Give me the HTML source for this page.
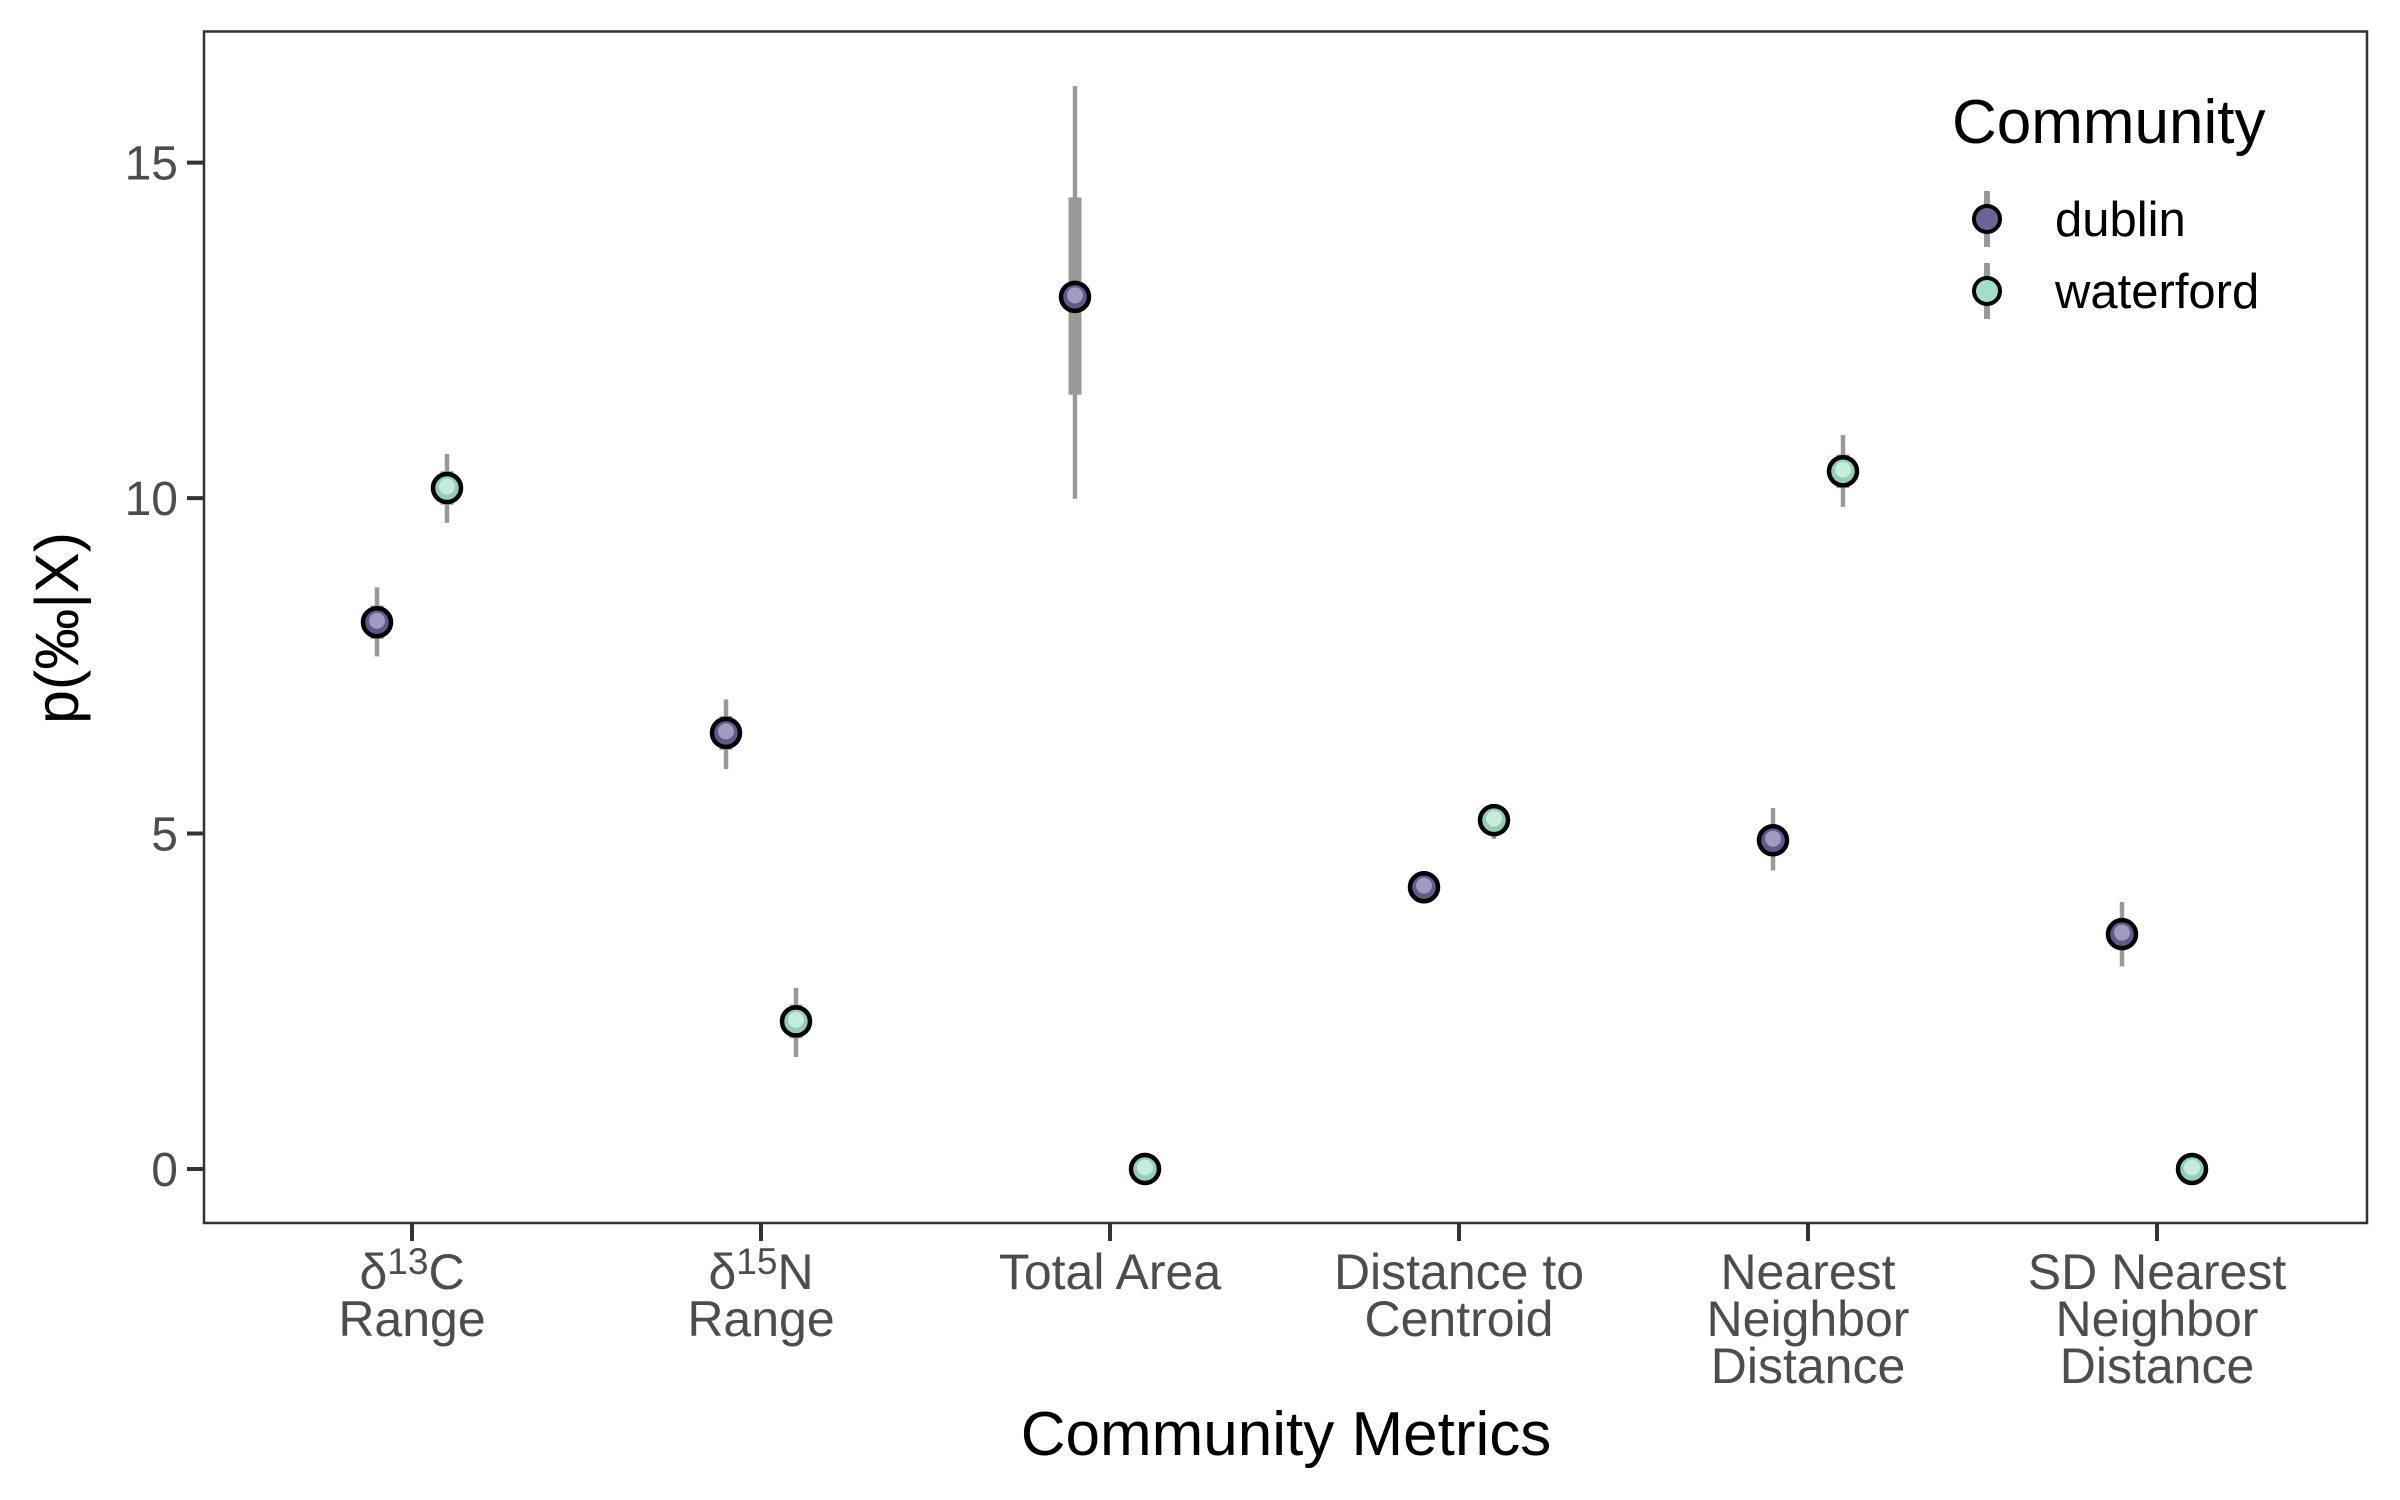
<!DOCTYPE html>
<html><head><meta charset="utf-8"><style>
html,body{margin:0;padding:0;background:#fff;}
svg{display:block;font-family:"Liberation Sans",Arial,sans-serif;}
</style></head><body>
<svg id="chart" width="2400" height="1500" viewBox="0 0 2400 1500" xmlns="http://www.w3.org/2000/svg">
<rect x="0" y="0" width="2400" height="1500" fill="#fff"/>
<g id="intervals"></g>
<g id="points"></g>
<rect x="204" y="31.5" width="2163" height="1191.5" fill="none" stroke="#333" stroke-width="2.5"/>
<g id="yaxis"></g>
<g id="xaxis"></g>
<text x="1286" y="1455" font-size="62" text-anchor="middle" fill="#000">Community Metrics</text>
<text transform="translate(78,628) rotate(-90)" font-size="61" text-anchor="middle" fill="#000">p(‰|X)</text>
<g>
<text x="1952" y="143" font-size="62" fill="#000">Community</text>
<g>
<line x1="1987" y1="191" x2="1987" y2="247" stroke="#999" stroke-width="6"/>
<circle cx="1987" cy="219" r="13" fill="#6a6497" stroke="#000" stroke-width="4"/>
<text x="2055" y="236" font-size="49" fill="#000">dublin</text>
</g>
<g>
<line x1="1987" y1="263" x2="1987" y2="319" stroke="#999" stroke-width="6"/>
<circle cx="1987" cy="291" r="13" fill="#a3dfc6" stroke="#000" stroke-width="4"/>
<text x="2055" y="308" font-size="49" fill="#000">waterford</text>
</g>
</g>
</svg>
<script>
const categories = ["d13C","d15N","Total Area","Distance to Centroid","Nearest Neighbor Distance","SD Nearest Neighbor Distance"];
const dublinValues = [8.15, 6.5, 13.0, 4.2, 4.9, 3.5];
const dublinLow = [7.64, 5.96, 9.99, 4.05, 4.45, 3.02];
const dublinHigh = [8.67, 7.0, 16.14, 4.35, 5.38, 3.98];
const dublinInnerLow = [7.9, 6.25, 11.54, 4.1, 4.7, 3.3];
const dublinInnerHigh = [8.4, 6.75, 14.48, 4.3, 5.1, 3.7];
const waterfordValues = [10.15, 2.2, 0.0, 5.2, 10.4, 0.0];
const waterfordLow = [9.63, 1.67, 0.0, 4.92, 9.87, 0.0];
const waterfordHigh = [10.66, 2.7, 0.0, 5.44, 10.94, 0.0];
const waterfordInnerLow = [9.9, 1.95, 0.0, 5.05, 10.15, 0.0];
const waterfordInnerHigh = [10.4, 2.45, 0.0, 5.35, 10.65, 0.0];
const yTicks = [0, 5, 10, 15];

const NS = "http://www.w3.org/2000/svg";
function yScale(v){ return 1169 - v * 67.09; }
function xScale(i){ return 412 + i * 349; }
function mk(tag, attrs, parent){ const e=document.createElementNS(NS,tag); for(const k in attrs) e.setAttribute(k,attrs[k]); parent.appendChild(e); return e; }

const gI=document.getElementById('intervals'), gP=document.getElementById('points');
const series=[
 {name:'dublin', vals:dublinValues, lo:dublinLow, hi:dublinHigh, ilo:dublinInnerLow, ihi:dublinInnerHigh, off:-35, fill:'#5e5a8c', inner:'#a09cbf'},
 {name:'waterford', vals:waterfordValues, lo:waterfordLow, hi:waterfordHigh, ilo:waterfordInnerLow, ihi:waterfordInnerHigh, off:35, fill:'#8fd0b4', inner:'#c6ecdb'}
];
series.forEach(s=>{
  s.vals.forEach((v,i)=>{
    const x=xScale(i)+s.off;
    const l=mk('line',{x1:x,x2:x,y1:yScale(s.lo[i]),y2:yScale(s.hi[i]),stroke:'#999','stroke-width':4.5},gI);
    
    
    const t=mk('line',{x1:x,x2:x,y1:yScale(s.ilo[i]),y2:yScale(s.ihi[i]),stroke:'#999','stroke-width':13},gI);
    
    
    const g=mk('g',{},gP);
    
    
    mk('circle',{cx:x,cy:yScale(v),r:14,fill:s.fill,stroke:'#000','stroke-width':4.5},g);
    mk('circle',{cx:x,cy:yScale(v)-1.5,r:8,fill:s.inner},g);
  });
});

const gy=document.getElementById('yaxis');
yTicks.forEach(t=>{
  const y=yScale(t);
  const l=mk('line',{x1:187,x2:204,y1:y,y2:y,stroke:'#333','stroke-width':4},gy);
  
  
  const tx=mk('text',{x:178,y:y+17,'font-size':48,'text-anchor':'end',fill:'#4d4d4d'},gy);
  
  
  tx.textContent=String(t);
});

const gx=document.getElementById('xaxis');
const labelLines=[
 [["δ",{sup:"13"},"C"],["Range"]],
 [["δ",{sup:"15"},"N"],["Range"]],
 [["Total Area"]],
 [["Distance to"],["Centroid"]],
 [["Nearest"],["Neighbor"],["Distance"]],
 [["SD Nearest"],["Neighbor"],["Distance"]]
];
categories.forEach((c,i)=>{
  const x=xScale(i);
  const l=mk('line',{x1:x,x2:x,y1:1223,y2:1241,stroke:'#333','stroke-width':4},gx);
  
  
  labelLines[i].forEach((parts,li)=>{
    const y=1289+li*47;
    const tx=mk('text',{x:x,y:y,'font-size':50,'text-anchor':'middle',fill:'#4d4d4d'},gx);
    
    
    parts.forEach(p=>{
      const ts=document.createElementNS(NS,'tspan');
      if(typeof p!=='string'){ ts.setAttribute('baseline-shift','40%'); ts.setAttribute('font-size','37'); ts.textContent=p.sup; }
      else ts.textContent=p;
      tx.appendChild(ts);
    });
  });
});
</script>
</body></html>
